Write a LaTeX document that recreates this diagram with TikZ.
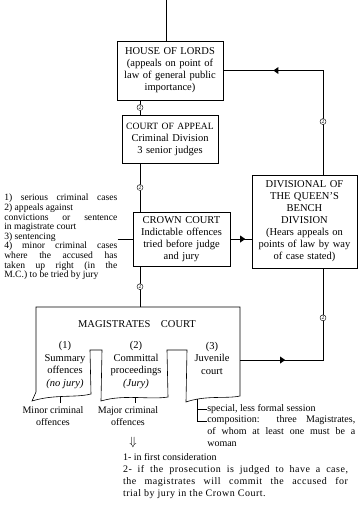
\documentclass[tikz,border=0pt]{standalone}
\usepackage{fontspec}
\setmainfont{Liberation Serif}
\newfontfamily\spacedfont[LetterSpace=5]{Liberation Serif}
\usetikzlibrary{positioning, arrows.meta, shapes.geometric}

\begin{document}
\begin{tikzpicture}[
    x=1pt, y=-1pt, line width=0.6pt,
    font=\fontsize{10}{12}\selectfont,
    box/.style={rectangle, draw, align=center, inner sep=3pt, font=\fontsize{10.5}{12}\selectfont},
    two/.style={circle, draw, thin, fill=white, inner sep=0.5pt, font=\fontsize{5.5}{5.5}\selectfont},
    tipmark/.style={isosceles triangle, isosceles triangle apex angle=70, fill, inner sep=0pt, minimum height=5pt, minimum width=4.5pt, sloped, allow upside down},
    note/.style={align=justify, inner sep=0pt, anchor=north west}
]
\useasboundingbox (0,0) rectangle (358,507);

\coordinate (top) at (166,0);
\coordinate (spine) at (140,0);
\coordinate (rail) at (323,0);

% courts
\node[box, text width=100pt, minimum height=59pt] (lords) at (170,70.5) {HOUSE OF LORDS\\(appeals on point of\\law of general public\\importance)};
\node[box, text width=90pt, minimum height=48pt] (appeal) at (170,139) {{\fontsize{9.6}{12}\selectfont COURT OF APPEAL}\\Criminal Division\\3 senior judges};
\node[box, text width=91pt, minimum height=54pt] (crown) at (181.5,239) {CROWN COURT\\Indictable offences\\tried before judge\\and jury};
\node[box, text width=99pt, minimum height=93pt] (queens) at (304.5,221.5) {DIVISIONAL OF\\THE QUEEN'S\\BENCH\\DIVISION\\(Hears appeals on\\points of law by way\\of case stated)};

% magistrates court with its three sections
\draw (36,392) -- (36,307) -- (240,307) -- (240,396)
  .. controls (226,399) and (206,395) .. (186,402) -- (187,350) -- (167,350) -- (168,397)
  .. controls (150,400) and (124,394) .. (101,401) -- (102,350) -- (90,350) -- (91,394)
  .. controls (75,398) and (55,394) .. (32,401) -- cycle;
\coordinate (magtop) at (140,307);
\coordinate (magright) at (240,360);
\node[font=\fontsize{10.5}{12}\selectfont] (magtitle) at (137,324) {MAGISTRATES\quad COURT};
\node[align=center, font=\fontsize{10.5}{12.5}\selectfont] (summary) at (65,365) {(1)\\Summary\\offences\\\textit{(no jury)}};
\node[align=center, font=\fontsize{10.5}{12.5}\selectfont] (committal) at (136,365) {(2)\\Committal\\proceedings\\\textit{(Jury)}};
\node[align=center, font=\fontsize{10.5}{12.5}\selectfont] (juvenile) at (212,358) {(3)\\Juvenile\\court};

% spine
\draw (top) -- (lords.north -| top);
\draw (lords.south -| spine) -- node[two] (c1) {2} (appeal.north -| spine);
\draw (appeal.south -| spine) -- node[two] (c2) {2} (crown.north -| spine);
\draw (crown.south -| spine) -- node[two] (c3) {2} (magtop);

% case stated
\draw (queens.north -| rail) |- node[two, pos=0.255] (c4) {2} node[tipmark, pos=0.733] (t1) {} (lords.east);
\draw (crown.east) -- node[tipmark, pos=0.55] (t2) {} (crown.east -| queens.west);
\draw (magright) -| node[tipmark, pos=0.253] (t3) {} node[two, pos=0.73] (c5) {2} (queens.south -| rail);

% jurisdiction of the crown court
\node[note, text width=113pt, font=\fontsize{9.6}{9.6}\selectfont] (cases) at (4,194) {1) serious criminal cases\linebreak
2) appeals against\newline
convictions or sentence\linebreak
in magistrate court\newline
3) sentencing\newline
4) minor criminal cases\linebreak
where the accused has\linebreak
taken up right (in the\linebreak
M.C.) to be tried by jury};
\draw (cases.east |- crown.west) -- (crown.west);

% below the magistrates court
\coordinate (sumfoot) at (60,397);
\coordinate (comfoot) at (135,398);
\coordinate (juvfoot) at (197,399);
\node[align=center] (minor) at (53,416) {Minor criminal\\offences};
\node[align=center] (major) at (128,416) {Major criminal\\offences};
\draw (sumfoot) -- (minor.north -| sumfoot);
\draw (comfoot) -- (major.north -| comfoot);

\node[anchor=west, inner sep=0pt] (special) at (207,409) {special, less formal session};
\node[note, text width=148pt] (compo) at (207,415) {composition: three Magistrates,\linebreak
of whom at least one must be a\linebreak
woman};
\draw (juvfoot) |- (special.west);
\draw (juvfoot) |- ([yshift=-6pt]compo.north west);

\node[font=\fontsize{12}{12}\selectfont] (down) at (133,442) {$\Downarrow$};
\node[note, text width=225pt, below=2pt of down.south west, anchor=north west, xshift=-3pt] (verdict) {1- in first consideration\newline
{\spacedfont 2- if the prosecution is judged to have a case,\linebreak
the magistrates will commit the accused for\linebreak
trial by jury in the Crown Court.}};

\end{tikzpicture}
\end{document}
